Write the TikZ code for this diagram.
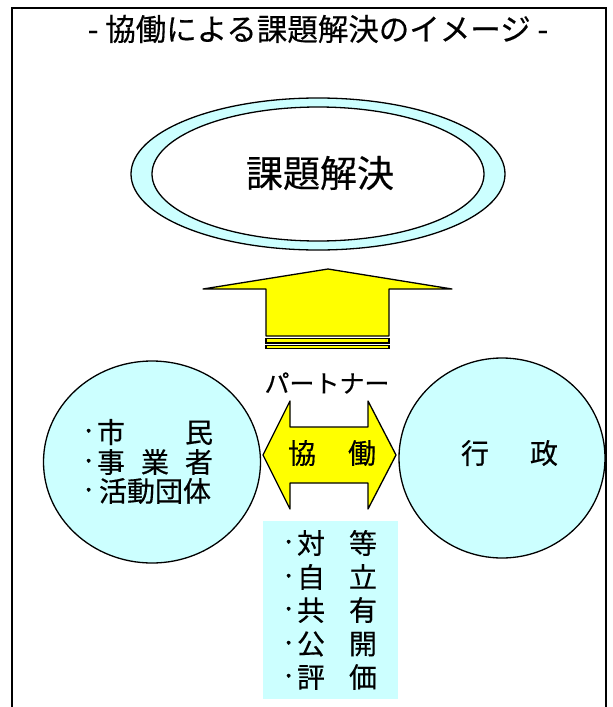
\documentclass[tikz,border=0pt]{standalone}
\usepackage{fontspec}
\newfontfamily\jp[FakeBold=0.4]{Noto Sans CJK JP}
\definecolor{lcyan}{HTML}{CCFFFF}
\definecolor{yel}{HTML}{FFFF00}
\begin{document}
\begin{tikzpicture}[x=1pt,y=-1pt,
  every node/.style={font=\jp, inner sep=0pt},
  lines/.style={line width=1.3pt, line join=round},
  txt/.style={font=\jp\fontsize{28}{28}\selectfont},
  dotc/.style={font=\jp\fontsize{28}{28}\selectfont, anchor=east, yshift=-3pt}]
\useasboundingbox (0,0) rectangle (613,707);
% frame
\draw[line width=2pt] (12,707) -- (12,8) -- (606,8) -- (606,707);
\node[font=\jp\fontsize{30.5}{30.5}\selectfont] (title) at (318,29) {- 協働による課題解決のイメージ -};
% goal ellipse
\draw[lines, fill=lcyan] (318,174) ellipse [x radius=187, y radius=76];
\draw[lines, fill=white] (318,174) ellipse [x radius=166, y radius=67];
\node[font=\jp\fontsize{37}{37}\selectfont] (goal) at (320,173) {課題解決};
% up arrow
\draw[lines, fill=yel] (328,269) -- (452,289) -- (389,289) -- (389,336) -- (266,336) -- (266,289) -- (203,289) -- cycle;
\draw[line width=1.1pt, fill=yel] (266,338.5) rectangle (389,343);
\draw[line width=1.1pt, fill=yel] (266,345.5) rectangle (389,348.5);
\node[font=\jp\fontsize{25}{25}\selectfont] (partner) at (327,383) {パートナー};
% circles
\draw[lines, fill=lcyan] (152,462) ellipse [x radius=108.5, y radius=101];
\draw[lines, fill=lcyan] (502,458) ellipse [x radius=103, y radius=100];
% double arrow
\draw[lines, fill=yel] (263,455) -- (290,401) -- (290,427) -- (368,427) -- (368,401) -- (396,455) -- (368,509) -- (368,483) -- (290,483) -- (290,509) -- cycle;
\node[txt] (kyo1) at (302,453) {協};
\node[txt] (kyo2) at (362,453) {働};
% right circle text
\node[txt] (gyo1) at (475,453) {行};
\node[txt] (gyo2) at (544,453) {政};
% left circle text
\node[txt] (l1) at (155,432) {\makebox[116pt]{市\hfill 民}};
\node[txt] (l2) at (155,462) {\makebox[116pt]{事\hfill 業\hfill 者}};
\node[txt] (l3) at (155,491) {\makebox[116pt]{活動団体}};
\node[dotc] (d1) at (l1.west) {·};
\node[dotc] (d2) at (l2.west) {·};
\node[dotc] (d3) at (l3.west) {·};
% bottom box
\fill[lcyan] (263,521) rectangle (398,699);
\node[txt] (b1) at (337,543) {\makebox[80pt]{対\hfill 等}};
\node[txt] (b2) at (337,577) {\makebox[80pt]{自\hfill 立}};
\node[txt] (b3) at (337,610) {\makebox[80pt]{共\hfill 有}};
\node[txt] (b4) at (337,644) {\makebox[80pt]{公\hfill 開}};
\node[txt] (b5) at (337,677) {\makebox[80pt]{評\hfill 価}};
\node[dotc] (e1) at (b1.west) {·};
\node[dotc] (e2) at (b2.west) {·};
\node[dotc] (e3) at (b3.west) {·};
\node[dotc] (e4) at (b4.west) {·};
\node[dotc] (e5) at (b5.west) {·};
\end{tikzpicture}
\end{document}
